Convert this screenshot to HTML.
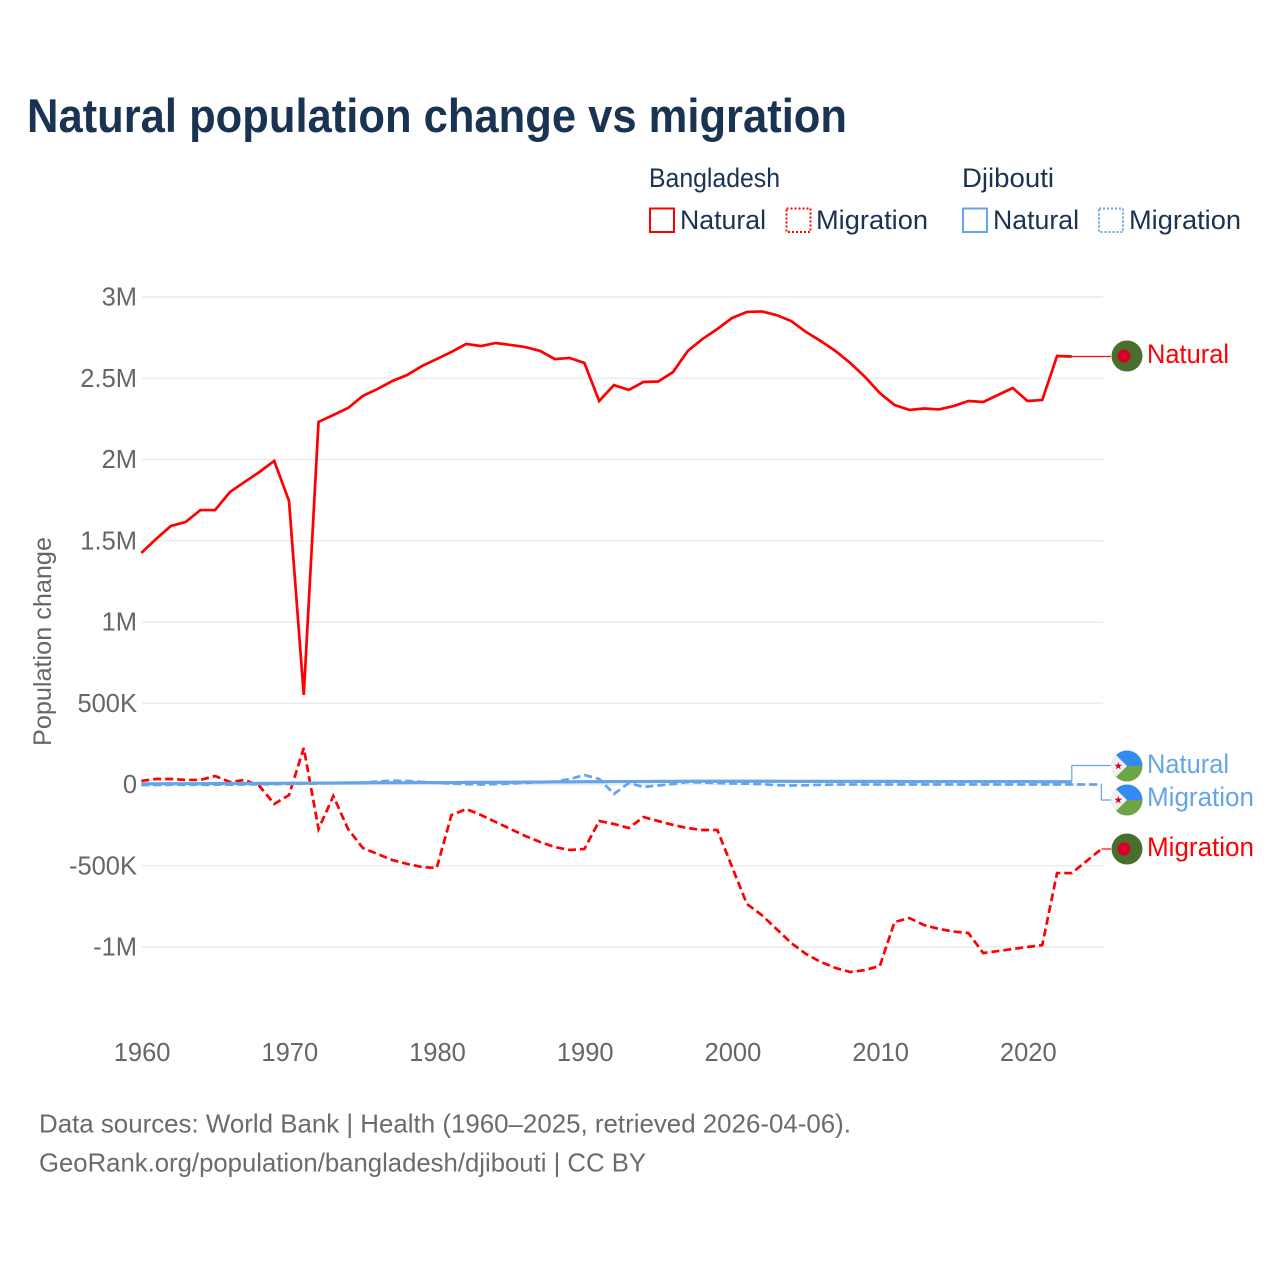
<!DOCTYPE html>
<html lang="en">
<head>
<meta charset="utf-8">
<title>Natural population change vs migration</title>
<style>
html,body{margin:0;padding:0;background:#fff;}
svg{display:block;font-family:"Liberation Sans",sans-serif;}
</style>
</head>
<body>
<svg id="chart" width="1280" height="1280" viewBox="0 0 1280 1280" xmlns="http://www.w3.org/2000/svg">
  <rect width="1280" height="1280" fill="#fff"/>
  <text x="27" y="132" font-size="47" font-weight="700" fill="#1a3353" textLength="820" lengthAdjust="spacingAndGlyphs">Natural population change vs migration</text>

  <g font-size="27" fill="#1a3353">
    <text x="649" y="187" textLength="131" lengthAdjust="spacingAndGlyphs">Bangladesh</text>
    <text x="962" y="187" textLength="92" lengthAdjust="spacingAndGlyphs">Djibouti</text>
    <g>
      <rect x="650" y="208.500" width="24" height="23.500" fill="none" stroke="#ff0000" stroke-width="2"/>
      <text x="680" y="229" textLength="86" lengthAdjust="spacingAndGlyphs">Natural</text>
    </g>
    <g>
      <rect x="786.500" y="208.500" width="24" height="23.500" fill="none" stroke="#ff0000" stroke-width="2" stroke-dasharray="2 2"/>
      <text x="816" y="229" textLength="112" lengthAdjust="spacingAndGlyphs">Migration</text>
    </g>
    <g>
      <rect x="963" y="208.500" width="24" height="23.500" fill="none" stroke="#64a5ea" stroke-width="2"/>
      <text x="993" y="229" textLength="86" lengthAdjust="spacingAndGlyphs">Natural</text>
    </g>
    <g>
      <rect x="1099" y="208.500" width="24" height="23.500" fill="none" stroke="#64a5ea" stroke-width="2" stroke-dasharray="2 2"/>
      <text x="1129" y="229" textLength="112" lengthAdjust="spacingAndGlyphs">Migration</text>
    </g>
  </g>

  <g id="grid"></g>
  <g id="yticks"></g>
  <g id="xticks"></g>
  <text transform="translate(51 746) rotate(-90)" font-size="25" fill="#666" textLength="209" lengthAdjust="spacingAndGlyphs">Population change</text>
  <g id="series"></g>

  <defs>
    <clipPath id="clip-dj-1"><circle cx="1127" cy="766" r="15.500"/></clipPath>
    <clipPath id="clip-dj-2"><circle cx="1127" cy="800" r="15.500"/></clipPath>
    <polygon id="dj-star" points="0,-4 1,-1.300 3.800,-1.300 1.600,0.500 2.350,3.200 0,1.600 -2.350,3.200 -1.600,0.500 -3.800,-1.300 -1,-1.300" fill="#d80027"/>
  </defs>

  <g>
    <circle cx="1127" cy="356" r="15.500" fill="#496e2d"/>
    <circle cx="1124" cy="356" r="6.500" fill="#d80027"/>
  </g>
  <g>
    <circle cx="1127" cy="849" r="15.500" fill="#496e2d"/>
    <circle cx="1124" cy="849" r="6.500" fill="#d80027"/>
  </g>
  <g clip-path="url(#clip-dj-1)">
    <rect x="1111" y="750" width="32" height="16" fill="#338af3"/>
    <rect x="1111" y="766" width="32" height="16" fill="#6da544"/>
    <polygon points="1111,750 1127,766 1111,782" fill="#f0f0f0"/>
    <use href="#dj-star" transform="translate(1118.300 766)"/>
  </g>
  <g clip-path="url(#clip-dj-2)">
    <rect x="1111" y="784" width="32" height="16" fill="#338af3"/>
    <rect x="1111" y="800" width="32" height="16" fill="#6da544"/>
    <polygon points="1111,784 1127,800 1111,816" fill="#f0f0f0"/>
    <use href="#dj-star" transform="translate(1118.300 800)"/>
  </g>

  <g font-size="27">
    <text x="1147" y="363" fill="#ff0000" textLength="82" lengthAdjust="spacingAndGlyphs">Natural</text>
    <text x="1147" y="773" fill="#64a5ea" textLength="82" lengthAdjust="spacingAndGlyphs">Natural</text>
    <text x="1147" y="806" fill="#64a5ea" textLength="107" lengthAdjust="spacingAndGlyphs">Migration</text>
    <text x="1147" y="856" fill="#ff0000" textLength="107" lengthAdjust="spacingAndGlyphs">Migration</text>
  </g>

  <g font-size="26" fill="#6b6b6b">
    <text x="39" y="1132.500" textLength="812" lengthAdjust="spacingAndGlyphs">Data sources: World Bank | Health (1960–2025, retrieved 2026-04-06).</text>
    <text x="39" y="1171.500" textLength="607" lengthAdjust="spacingAndGlyphs">GeoRank.org/population/bangladesh/djibouti | CC BY</text>
  </g>
</svg>

<script>
// Values in thousands of people per year; each series starts in 1960.
const startYear = 1960;
const xTickYears = [1960, 1970, 1980, 1990, 2000, 2010, 2020];
const yTickValues = [3000, 2500, 2000, 1500, 1000, 500, 0, -500, -1000];
const yTickLabels = ['3M', '2.5M', '2M', '1.5M', '1M', '500K', '0', '-500K', '-1M'];

const bangladeshNatural = [1425, 1511, 1591, 1615, 1689, 1689, 1800, 1862, 1923, 1991,
  1745, 551, 2231, 2274, 2317, 2391, 2434, 2483, 2520, 2575,
  2618, 2662, 2711, 2698, 2717, 2705, 2692, 2668, 2618, 2625,
  2594, 2360, 2458, 2428, 2477, 2480, 2538, 2668, 2742, 2803,
  2871, 2908, 2911, 2889, 2852, 2785, 2729, 2668, 2594, 2508,
  2409, 2335, 2305, 2314, 2308, 2329, 2360, 2354, 2397, 2440,
  2360, 2366, 2637, 2634];

const bangladeshMigration = [22, 34, 34, 28, 28, 52, 15, 28, -9, -120,
  -65, 225, -274, -71, -274, -391, -428, -465, -489, -508,
  -514, -188, -151, -188, -231, -274, -317, -354, -385, -403,
  -397, -225, -243, -268, -200, -225, -249, -268, -280, -280,
  -508, -735, -803, -889, -975, -1043, -1092, -1129, -1154, -1142,
  -1117, -846, -822, -865, -889, -905, -914, -1037, -1025, -1012,
  -1000, -988, -545, -545, -471, -397];

const djiboutiNatural = [4, 4, 5, 5, 5, 6, 6, 6, 7, 7,
  8, 8, 9, 9, 10, 10, 11, 11, 11, 12,
  12, 12, 13, 13, 14, 14, 15, 15, 16, 16,
  17, 17, 18, 18, 18, 19, 19, 20, 20, 20,
  20, 20, 20, 20, 19, 19, 19, 19, 19, 19,
  19, 19, 18, 18, 18, 18, 18, 18, 18, 18,
  18, 17, 17, 17];

const djiboutiMigration = [-3, -3, -2, -2, -2, -1, -1, 0, 1, 2,
  3, 5, 6, 8, 10, 12, 18, 24, 22, 16,
  10, 6, 2, 0, 2, 6, 10, 14, 16, 34,
  58, 34, -58, 9, -15, -6, 3, 15, 12, 9,
  6, 5, 2, -4, -6, -5, -2, 0, 0, 0,
  0, 0, 0, 0, 0, 0, 0, 0, 0, 0,
  0, 0, 0, 0, 0, 0];

const SVGNS = 'http://www.w3.org/2000/svg';
const RED = '#ff0000';
const BLUE = '#64a5ea';

function xScale(year) { return 141.300 + (year - 1960) * 14.770; }
function yScale(value) { return 784.5 - value * 0.1625; }

function make(tag, attrs, parent) {
  const el = document.createElementNS(SVGNS, tag);
  Object.keys(attrs).forEach(function (k) { el.setAttribute(k, attrs[k]); });
  parent.appendChild(el);
  return el;
}

const grid = document.getElementById('grid');
const yticks = document.getElementById('yticks');
const xticks = document.getElementById('xticks');
const seriesGroup = document.getElementById('series');

yTickValues.forEach(function (v, i) {
  const line = make('line', { x1: xScale(1960) + 0.7, x2: xScale(2025) + 1.6, y1: yScale(v), y2: yScale(v), stroke: '#ececec', 'stroke-width': 1.5 }, grid);
  
  
  const label = make('text', { x: 137, y: yScale(v) + 8.500, 'text-anchor': 'end', 'font-size': 25.5, fill: '#666' }, yticks);
  
  
  label.textContent = yTickLabels[i];
});

xTickYears.forEach(function (year) {
  const label = make('text', { x: xScale(year) + 0.8, y: 1061, 'text-anchor': 'middle', 'font-size': 25.5, fill: '#666' }, xticks);
  
  
  label.textContent = year;
});

function pointsOf(values) {
  return values.map(function (v, i) {
    return xScale(startYear + i).toFixed(2) + ',' + yScale(v).toFixed(2);
  }).join(' ');
}

function lastPoint(values) {
  const i = values.length - 1;
  return [xScale(startYear + i), yScale(values[i])];
}

function leader(values, targetY, color, name) {
  const p = lastPoint(values);
  const pts = Math.abs(p[1] - targetY) < 2
    ? p[0] + ',' + p[1] + ' 1111,' + p[1]
    : p[0] + ',' + p[1] + ' ' + p[0] + ',' + targetY + ' 1111,' + targetY;
  const el = make('polyline', { points: pts, fill: 'none', stroke: color, 'stroke-width': 1.200 }, seriesGroup);
  
  
}

leader(bangladeshNatural, 356, RED, 'leader-bangladesh-natural');
leader(bangladeshMigration, 849, RED, 'leader-bangladesh-migration');
leader(djiboutiNatural, 765.500, BLUE, 'leader-djibouti-natural');
leader(djiboutiMigration, 800, BLUE, 'leader-djibouti-migration');

const lineRedSolid = make('polyline', { points: pointsOf(bangladeshNatural), fill: 'none', stroke: RED, 'stroke-width': 2.700, 'stroke-linejoin': 'miter' }, seriesGroup);



const lineRedDash = make('polyline', { points: pointsOf(bangladeshMigration), fill: 'none', stroke: RED, 'stroke-width': 2.700, 'stroke-dasharray': '8 4' }, seriesGroup);



const lineBlueDash = make('polyline', { points: pointsOf(djiboutiMigration), fill: 'none', stroke: BLUE, 'stroke-width': 2.700, 'stroke-dasharray': '8 4' }, seriesGroup);



const lineBlueSolid = make('polyline', { points: pointsOf(djiboutiNatural), fill: 'none', stroke: BLUE, 'stroke-width': 3.200 }, seriesGroup);


</script>
</body>
</html>
